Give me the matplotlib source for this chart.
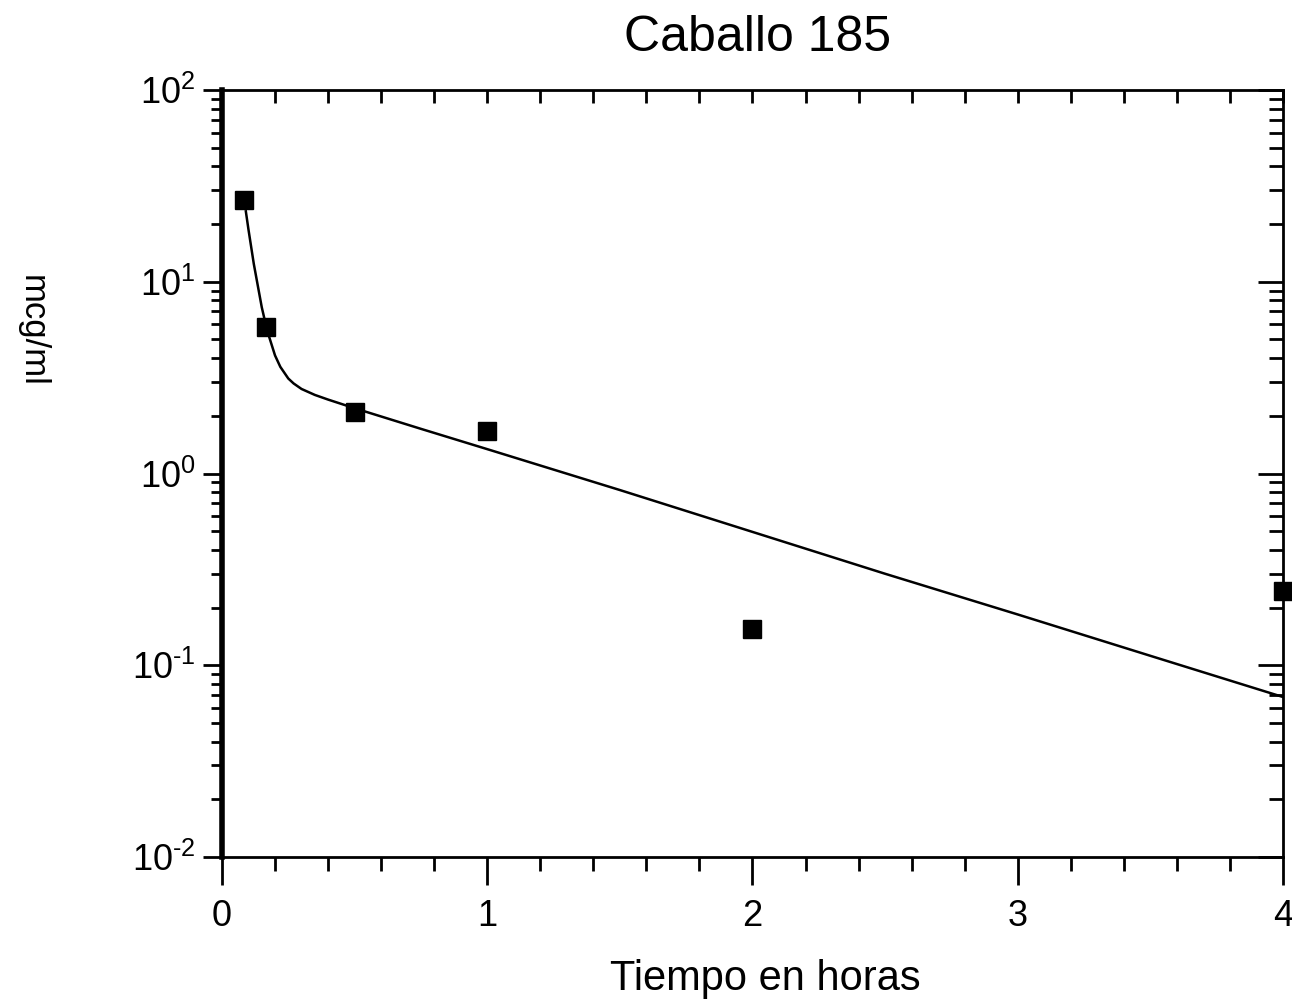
import numpy as np
import matplotlib
matplotlib.use("Agg")
import matplotlib.pyplot as plt
from matplotlib.ticker import LogLocator, MultipleLocator, NullFormatter, FuncFormatter

plt.rcParams['font.family'] = ['Liberation Sans', 'DejaVu Sans']
plt.rcParams['mathtext.fontset'] = 'custom'
plt.rcParams['mathtext.rm'] = 'Liberation Sans'
plt.rcParams['mathtext.default'] = 'regular'

# measured concentrations (hours, mcg/ml)
tiempo = [0.083, 0.167, 0.5, 1.0, 2.0, 4.0]
concentracion = [26.8, 5.8, 2.1, 1.66, 0.155, 0.245]

# fitted biexponential curve, read at a few times
curva_t = [0.09, 0.10, 0.12, 0.15, 0.17, 0.20, 0.22, 0.25, 0.27, 0.30,
           0.35, 0.40, 0.50, 0.75, 1.0, 1.5, 2.0, 2.5, 3.0, 3.5, 4.0]
curva_c = [23.3, 18.7, 12.4, 7.37, 5.59, 4.13, 3.60, 3.13, 2.95, 2.76,
           2.57, 2.43, 2.19, 1.71, 1.34, 0.82, 0.496, 0.30, 0.184, 0.112, 0.0683]


def potencia(v, pos):
    # 10^n with a plain hyphen for negative exponents
    n = int(round(np.log10(v)))
    return r'$10^{\text{%d}}$' % n


fig = plt.figure(figsize=(12.92, 10.05), dpi=100)
ax = fig.add_axes([0.1718, 0.1473, 0.8212, 0.7631])

ax.plot(curva_t, curva_c, color='black', lw=1.8)
ax.plot(tiempo, concentracion, 's', color='black', ms=13, clip_on=False, zorder=5)

ax.set_yscale('log')
ax.set_xlim(0, 4)
ax.set_ylim(1e-2, 1e2)

ax.xaxis.set_major_locator(MultipleLocator(1))
ax.xaxis.set_minor_locator(MultipleLocator(0.2))
ax.yaxis.set_major_locator(LogLocator(base=10))
ax.yaxis.set_major_formatter(FuncFormatter(potencia))
ax.yaxis.set_minor_locator(LogLocator(base=10, subs=np.arange(2, 10)))
ax.yaxis.set_minor_formatter(NullFormatter())

for side in ['top', 'right', 'bottom']:
    ax.spines[side].set_linewidth(2)
ax.spines['left'].set_linewidth(4)

ax.tick_params(axis='x', which='major', labelsize=26, width=2, length=20,
               direction='out', pad=10)
ax.tick_params(axis='x', which='minor', width=2, length=10, direction='out')
ax.tick_params(axis='y', which='major', labelsize=26, width=2, length=14,
               direction='out', pad=5)
ax.tick_params(axis='y', which='minor', width=2, length=8, direction='out')
ax.tick_params(axis='x', which='both', top=True, labeltop=False)
ax.tick_params(axis='y', which='both', right=True, labelright=False)

# ticks on the top and right edges point into the plot
for t in ax.xaxis.get_major_ticks() + ax.xaxis.get_minor_ticks():
    t.tick2line.set_marker(3)
    t.tick2line.set_markersize(9)
for t in ax.yaxis.get_major_ticks():
    t.tick2line.set_marker(0)
    t.tick2line.set_markersize(18)
for t in ax.yaxis.get_minor_ticks():
    t.tick2line.set_marker(0)
    t.tick2line.set_markersize(10)

fig.text(0.586, 0.962, 'Caballo 185', ha='center', va='center', fontsize=36)
fig.text(0.592, 0.026, 'Tiempo en horas', ha='center', va='center', fontsize=30)
fig.text(0.025, 0.671, 'mcg/ml', ha='center', va='center', fontsize=25, rotation=270)

fig.savefig('out.png', dpi=100)
